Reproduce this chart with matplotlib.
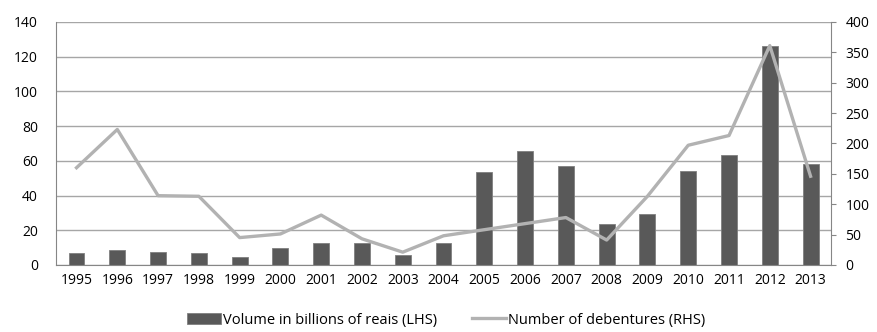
import matplotlib.pyplot as plt
import numpy as np

plt.rcParams['font.family'] = ['Open Sans', 'DejaVu Sans']

years = ['1995', '1996', '1997', '1998', '1999', '2000', '2001', '2002', '2003', '2004',
         '2005', '2006', '2007', '2008', '2009', '2010', '2011', '2012', '2013']
volume = [6.7, 8.8, 7.5, 7.1, 4.6, 9.6, 12.5, 12.9, 5.8, 12.5,
          53.7, 65.4, 56.9, 23.4, 29.6, 54.3, 63.1, 126.0, 58.3]
debentures = [160, 223, 114, 113, 45, 51, 82, 43, 21, 48,
              58, 68, 78, 41, 113, 197, 213, 361, 146]

x = np.arange(len(years))

fig = plt.figure(figsize=(8.77, 3.32), dpi=100)
ax = fig.add_axes([0.064, 0.202, 0.8835, 0.732])
ax2 = ax.twinx()

# gridlines on the left scale
ax.set_axisbelow(True)
ax.yaxis.grid(True, color='#a6a6a6', lw=1.0)
bars = ax.bar(x, volume, width=0.39, color='#595959', edgecolor='#7f7f7f', lw=0.6,
              label='Volume in billions of reais (LHS)', zorder=2)
line, = ax2.plot(x, debentures, color='#b2b2b2', lw=2.4,
                 label='Number of debentures (RHS)', zorder=3)

ax.set_xlim(-0.5, len(years) - 0.5)
ax.set_ylim(0, 140)
ax.set_yticks(range(0, 141, 20))
ax2.set_ylim(0, 400)
ax2.set_yticks(range(0, 401, 50))
ax.set_xticks(x)
ax.set_xticklabels(years)

for a in (ax, ax2):
    for s in a.spines.values():
        s.set_visible(False)
ax.spines['left'].set_visible(True)
ax.spines['left'].set_color('#868686')
ax.spines['bottom'].set_visible(True)
ax.spines['bottom'].set_color('#868686')
ax2.spines['right'].set_visible(True)
ax2.spines['right'].set_color('#868686')

ax.tick_params(axis='y', length=0, labelsize=10, pad=13)
ax.tick_params(axis='x', length=0, labelsize=10, pad=6)
ax2.tick_params(axis='y', length=3.5, color='#868686', labelsize=10, pad=7)

fig.legend([bars, line], [bars.get_label(), line.get_label()],
           loc='center', bbox_to_anchor=(0.509, 0.036), ncol=2, frameon=False,
           fontsize=10.5, handlelength=2.3, handletextpad=0.15, columnspacing=2.4)

fig.savefig('out.png', dpi=100)
